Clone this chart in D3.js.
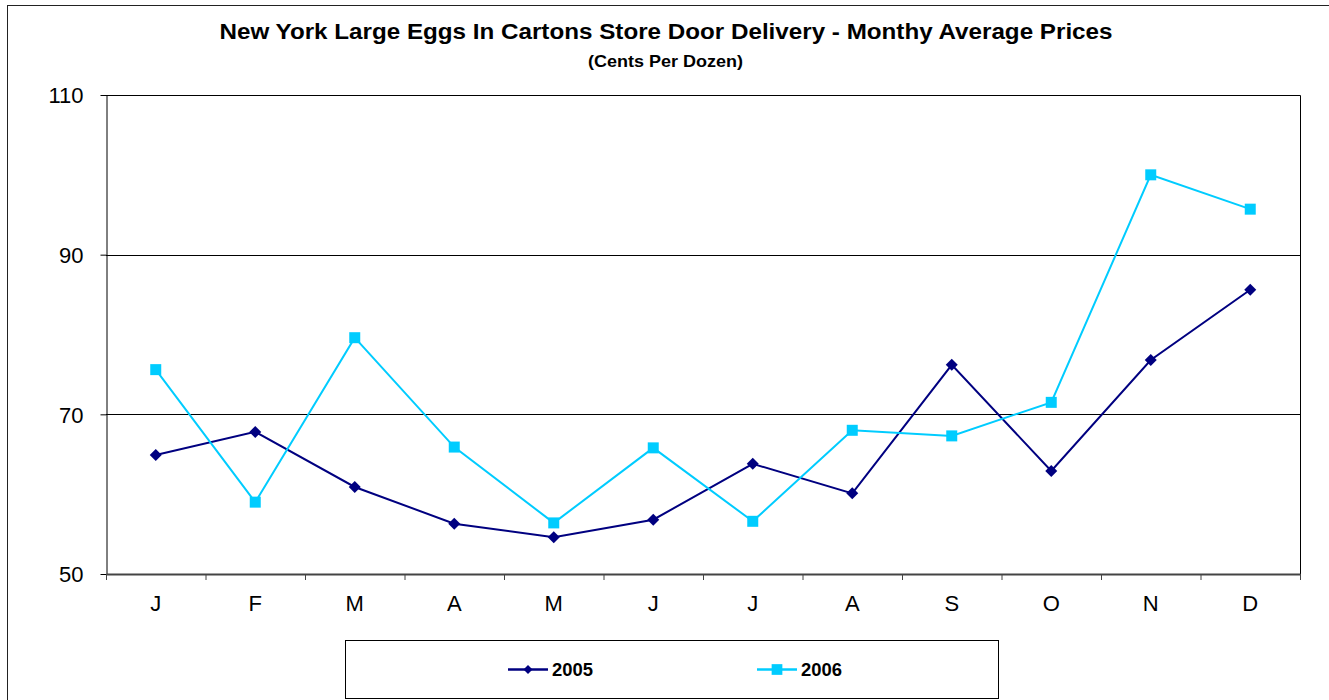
<!DOCTYPE html>
<html>
<head>
<meta charset="utf-8">
<script src="https://cdn.jsdelivr.net/npm/d3@7"></script>
<style>
  html, body { margin: 0; padding: 0; background: #fff; }
  svg { display: block; font-family: "Liberation Sans", Arial, sans-serif; }
</style>
</head>
<body>
<svg id="chart" width="1329" height="700"></svg>
<script>
const title = "New York Large Eggs In Cartons Store Door Delivery - Monthy Average Prices";
const subtitle = "(Cents Per Dozen)";
const months = ["J", "F", "M", "A", "M", "J", "J", "A", "S", "O", "N", "D"];
const series2005 = [64.9, 67.8, 60.9, 56.3, 54.6, 56.8, 63.8, 60.1, 76.2, 62.9, 76.8, 85.6];
const series2006 = [75.6, 59.0, 79.6, 65.9, 56.4, 65.8, 56.6, 68.0, 67.3, 71.5, 100.0, 95.7];
const yTicks = [50, 70, 90, 110];
const seriesNames = ["2005", "2006"];

const svg = d3.select("#chart");
const W = 1329, H = 700;
const plot = { left: 106, top: 95, right: 1300, bottom: 574 };
const colors = { "2005": "#000080", "2006": "#00CCFF" };

// outer chart border (extends off right/bottom)
svg.append("rect")
  .attr("x", 7.5).attr("y", 5.5)
  .attr("width", W + 10).attr("height", H + 10)
  .attr("fill", "#fff").attr("stroke", "#222").attr("stroke-width", 1);

// title
svg.append("text")
  .attr("x", 666).attr("y", 38.5)
  .attr("text-anchor", "middle")
  .attr("font-weight", "bold").attr("font-size", 22.5)
  .attr("textLength", 893).attr("lengthAdjust", "spacingAndGlyphs")
  .text(title);
svg.append("text")
  .attr("x", 665.5).attr("y", 67)
  .attr("text-anchor", "middle")
  .attr("font-weight", "bold").attr("font-size", 17)
  .attr("textLength", 155).attr("lengthAdjust", "spacingAndGlyphs")
  .text(subtitle);

const idx = d3.range(months.length);
const x = d3.scaleBand().domain(idx).range([plot.left, plot.right]).padding(0);
const xEdge = d3.scaleLinear().domain([0, months.length]).range([plot.left, plot.right]);
const y = d3.scaleLinear().domain([50, 110]).range([plot.bottom, plot.top]);
const cx = i => x(i) + x.bandwidth() / 2;

// gridlines
svg.append("g").selectAll("line").data(yTicks.filter(v => v > 50 && v < 110)).join("line")
  .attr("x1", plot.left).attr("x2", plot.right)
  .attr("y1", d => Math.round(y(d)) + 0.5).attr("y2", d => Math.round(y(d)) + 0.5)
  .attr("stroke", "#000").attr("stroke-width", 1);

// plot border top/right
svg.append("path")
  .attr("d", `M${plot.left},${plot.top + 0.5}H${plot.right + 0.5}V${plot.bottom}`)
  .attr("fill", "none").attr("stroke", "#000").attr("stroke-width", 1);

// y axis
const yAxis = svg.append("g")
  .attr("transform", `translate(${plot.left + 0.5},0)`)
  .call(d3.axisLeft(y).tickValues(yTicks).tickSize(6).tickSizeOuter(0).tickFormat(d3.format("d")));
yAxis.select(".domain").attr("stroke", "#000").attr("stroke-width", 1);
yAxis.selectAll(".tick line").attr("stroke", "#000");
yAxis.selectAll(".tick text")
  .attr("x", -23).attr("dy", "0.36em")
  .attr("font-size", 22).attr("font-family", "'Liberation Sans', Arial, sans-serif").attr("fill", "#000");

// x axis boundary ticks
const xTickAxis = svg.append("g")
  .attr("transform", `translate(0,${plot.bottom})`)
  .call(d3.axisBottom(xEdge).tickValues(d3.range(months.length + 1)).tickSize(6).tickSizeOuter(0).tickFormat(""));
xTickAxis.select(".domain").attr("stroke", "#444").attr("stroke-width", 2);
xTickAxis.selectAll(".tick line").attr("stroke", "#444").attr("stroke-width", 1);

// x labels
const xLabAxis = svg.append("g")
  .attr("transform", `translate(0,${plot.bottom})`)
  .call(d3.axisBottom(x).tickSize(0).tickFormat(i => months[i]));
xLabAxis.select(".domain").remove();
xLabAxis.selectAll(".tick text")
  .attr("y", 37).attr("dy", 0)
  .attr("font-size", 22).attr("font-family", "'Liberation Sans', Arial, sans-serif").attr("fill", "#000");

// lines
const line = d3.line().x((d, i) => cx(i)).y(d => y(d));
const data = [
  { name: "2005", values: series2005 },
  { name: "2006", values: series2006 }
];
data.forEach(s => {
  svg.append("path").datum(s.values)
    .attr("d", line)
    .attr("fill", "none").attr("stroke", colors[s.name]).attr("stroke-width", 2);
});

const diamond = d3.symbol(d3.symbolSquare, 72);
const square = d3.symbol(d3.symbolSquare, 121);

svg.append("g").selectAll("path").data(series2005).join("path")
  .attr("d", diamond)
  .attr("transform", (d, i) => `translate(${cx(i)},${y(d)}) rotate(45)`)
  .attr("fill", colors["2005"]);
svg.append("g").selectAll("path").data(series2006).join("path")
  .attr("d", square)
  .attr("transform", (d, i) => `translate(${cx(i)},${y(d)})`)
  .attr("fill", colors["2006"]);

// legend
svg.append("rect")
  .attr("x", 345.5).attr("y", 640.5).attr("width", 653).attr("height", 58)
  .attr("fill", "#fff").attr("stroke", "#000").attr("stroke-width", 1);

const legendItems = [
  { name: "2005", x0: 508, mark: d3.symbol(d3.symbolSquare, 40), rot: 45 },
  { name: "2006", x0: 757, mark: d3.symbol(d3.symbolSquare, 115), rot: 0 }
];
legendItems.forEach(it => {
  const g = svg.append("g");
  g.append("line")
    .attr("x1", it.x0).attr("x2", it.x0 + 40)
    .attr("y1", 669.5).attr("y2", 669.5)
    .attr("stroke", colors[it.name]).attr("stroke-width", 2.5);
  g.append("path")
    .attr("d", it.mark)
    .attr("transform", `translate(${it.x0 + 20},669.5) rotate(${it.rot})`)
    .attr("fill", colors[it.name]);
  g.append("text")
    .attr("x", it.x0 + 44).attr("y", 675.5)
    .attr("font-weight", "bold").attr("font-size", 18)
    .attr("textLength", 41).attr("lengthAdjust", "spacingAndGlyphs")
    .text(it.name);
});
</script>
</body>
</html>
